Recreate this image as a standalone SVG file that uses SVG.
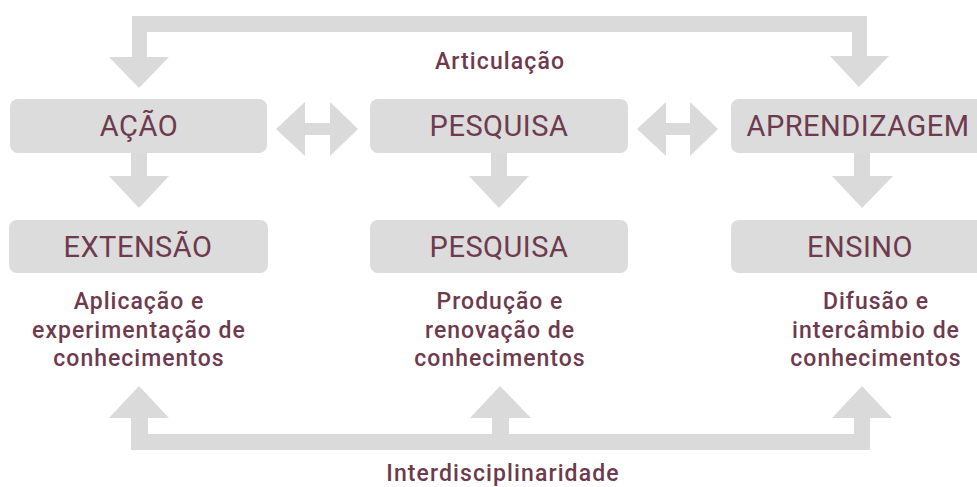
<svg xmlns="http://www.w3.org/2000/svg" width="977" height="487" viewBox="0 0 977 487">
<style>
.box{fill:#dcdcdc}
.arr{fill:#dadada}
.title{font-family:Roboto,"Liberation Sans",sans-serif;font-size:29px;font-weight:400;fill:#6e3a4e;text-anchor:middle;letter-spacing:0.5px}
.desc{font-family:Roboto,"Liberation Sans",sans-serif;font-size:23px;font-weight:500;fill:#6e3a4e;text-anchor:middle;letter-spacing:1px}
.lbl{font-family:Roboto,"Liberation Sans",sans-serif;font-size:23px;font-weight:500;fill:#6e3a4e;text-anchor:middle;letter-spacing:1.1px}
</style>
<rect width="977" height="487" fill="#ffffff"/>
<g id="connectors">
  <path class="arr" d="M132,58 V16 H867 V57 H852 V32 H147 V58 Z"/>
  <polygon class="arr" points="109,57 169,57 139,88"/>
  <polygon class="arr" points="830,56 889,56 859,87"/>
  <path class="arr" d="M276,129 L305,102 V123 H330 V102 L358,129 L330,156 V135 H305 V156 Z"/>
  <path class="arr" d="M637,129 L666,102 V123 H690 V102 L718,129 L690,156 V135 H666 V156 Z"/>
  <path class="arr" d="M131,152 H147 V176 H169 L139,208 L109,176 H131 Z"/>
  <path class="arr" d="M491,152 H507 V176 H529 L499,208 L469,176 H491 Z"/>
  <path class="arr" d="M854,152 H870 V176 H893 L862,208 L832,176 H854 Z"/>
  <path class="arr" d="M139,386 L169,418 H148 V434 H492 V418 H470 L500,386 L531,418 H509 V434 H854 V418 H832 L862,386 L892,418 H870 V450 H131 V418 H109 Z"/>
  <text class="lbl" x="500" y="69">Articulação</text>
  <text class="lbl" x="503" y="481">Interdisciplinaridade</text>
</g>
<g id="acao">
  <rect class="box" x="10" y="99" width="257" height="54" rx="8"/>
  <text class="title" x="139" y="136">AÇÃO</text>
</g>
<g id="pesquisa1">
  <rect class="box" x="370" y="99" width="258" height="54" rx="8"/>
  <text class="title" x="499" y="136">PESQUISA</text>
</g>
<g id="aprendizagem">
  <rect class="box" x="731" y="99" width="260" height="54" rx="8"/>
  <text class="title" x="858" y="136">APRENDIZAGEM</text>
</g>
<g id="extensao">
  <rect class="box" x="9" y="220" width="259" height="53" rx="8"/>
  <text class="title" x="138" y="257">EXTENSÃO</text>
  <text class="desc" x="139" y="309">Aplicação e</text>
  <text class="desc" x="139" y="337.5">experimentação de</text>
  <text class="desc" x="139" y="366">conhecimentos</text>
</g>
<g id="pesquisa2">
  <rect class="box" x="370" y="220" width="258" height="53" rx="8"/>
  <text class="title" x="499" y="257">PESQUISA</text>
  <text class="desc" x="500" y="309">Produção e</text>
  <text class="desc" x="500" y="337.5">renovação de</text>
  <text class="desc" x="500" y="366">conhecimentos</text>
</g>
<g id="ensino">
  <rect class="box" x="731" y="220" width="260" height="53" rx="8"/>
  <text class="title" x="860" y="257">ENSINO</text>
  <text class="desc" x="876" y="309">Difusão e</text>
  <text class="desc" x="876" y="337.5">intercâmbio de</text>
  <text class="desc" x="876" y="366">conhecimentos</text>
</g>
</svg>
